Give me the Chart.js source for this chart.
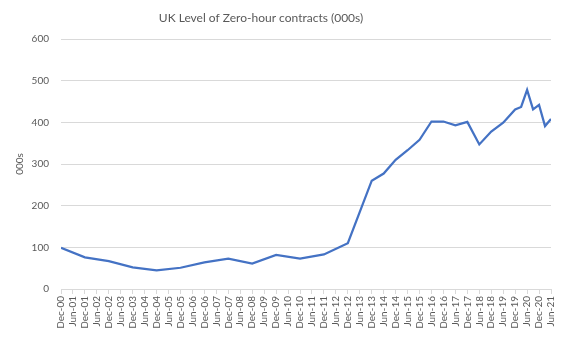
<!DOCTYPE html>
<html>
<head>
<meta charset="utf-8">
<script src="https://cdn.jsdelivr.net/npm/chart.js@4/dist/chart.umd.min.js"></script>
<style>
  html, body { margin: 0; padding: 0; background: #ffffff; }
  canvas { display: block; }
</style>
</head>
<body>
<canvas id="chart" width="565" height="339"></canvas>
<script>
// Survey periods (annual to Dec-13, half-yearly to Jun-19, then quarterly)
const periods = [
  'Dec-00', 'Dec-01', 'Dec-02', 'Dec-03', 'Dec-04', 'Dec-05', 'Dec-06',
  'Dec-07', 'Dec-08', 'Dec-09', 'Dec-10', 'Dec-11', 'Dec-12', 'Dec-13',
  'Jun-14', 'Dec-14', 'Jun-15', 'Dec-15', 'Jun-16', 'Dec-16', 'Jun-17',
  'Dec-17', 'Jun-18', 'Dec-18', 'Jun-19', 'Dec-19', 'Mar-20', 'Jun-20',
  'Sep-20', 'Dec-20', 'Mar-21', 'Jun-21'
];

// People on zero-hour contracts, thousands
const contracts = [
  99, 76, 67, 52, 45, 51, 64,
  73, 61, 82, 73, 83, 110, 260,
  277, 310, 333, 358, 402, 402, 393,
  401, 347, 378, 399, 431, 437, 478,
  431, 442, 391, 408
];

// Category labels along the date axis, every six months
const xTickLabels = [
  'Dec-00', 'Jun-01', 'Dec-01', 'Jun-02', 'Dec-02', 'Jun-03', 'Dec-03',
  'Jun-04', 'Dec-04', 'Jun-05', 'Dec-05', 'Jun-06', 'Dec-06', 'Jun-07',
  'Dec-07', 'Jun-08', 'Dec-08', 'Jun-09', 'Dec-09', 'Jun-10', 'Dec-10',
  'Jun-11', 'Dec-11', 'Jun-12', 'Dec-12', 'Jun-13', 'Dec-13', 'Jun-14',
  'Dec-14', 'Jun-15', 'Dec-15', 'Jun-16', 'Dec-16', 'Jun-17', 'Dec-17',
  'Jun-18', 'Dec-18', 'Jun-19', 'Dec-19', 'Jun-20', 'Dec-20', 'Jun-21'
];

const chartTitle = 'UK Level of Zero-hour contracts (000s)';
const yAxisTitle = '000s';

const MONTHS = ['Jan','Feb','Mar','Apr','May','Jun','Jul','Aug','Sep','Oct','Nov','Dec'];

// Months elapsed since Dec-00
function monthOffset(label) {
  const [mon, yy] = label.split('-');
  return (parseInt(yy, 10) * 12 + MONTHS.indexOf(mon)) - 11;
}

const points = periods.map((p, i) => ({ x: monthOffset(p), y: contracts[i] }));
const lastMonth = monthOffset(xTickLabels[xTickLabels.length - 1]);

const FONT = 'Lato, "Liberation Sans", sans-serif';
const TEXT = '#595959';
const GRID = '#d9d9d9';

// Chart heading, centred over the drawing
const headingPlugin = {
  id: 'heading',
  afterDraw(chart) {
    const ctx = chart.ctx;
    ctx.save();
    ctx.font = '12px ' + FONT;
    ctx.fillStyle = TEXT;
    ctx.textAlign = 'center';
    ctx.textBaseline = 'middle';
    ctx.fillText(chartTitle, 261, 18);
    ctx.restore();
  }
};

new Chart(document.getElementById('chart'), {
  type: 'line',
  data: {
    datasets: [{
      data: points,
      borderColor: '#4472C4',
      borderWidth: 2.25,
      pointRadius: 0,
      pointHoverRadius: 0,
      tension: 0,
      fill: false
    }]
  },
  options: {
    responsive: false,
    animation: false,
    events: [],
    layout: { padding: { top: 39, right: 12, bottom: 0, left: 0 } },
    plugins: {
      legend: { display: false },
      title: { display: false },
      tooltip: { enabled: false }
    },
    scales: {
      x: {
        type: 'linear',
        min: 0,
        max: lastMonth,
        afterFit(scale) { scale.height = 50; },
        afterBuildTicks(scale) {
          scale.ticks = xTickLabels.map((_, i) => ({ value: i * 6 }));
        },
        ticks: {
          autoSkip: false,
          minRotation: 90,
          maxRotation: 90,
          padding: 2,
          color: TEXT,
          font: { family: FONT, size: 10 },
          callback: (value) => xTickLabels[Math.round(value / 6)]
        },
        grid: {
          drawOnChartArea: false,
          drawTicks: true,
          tickLength: 5,
          color: GRID
        },
        border: { display: true, color: GRID, width: 1 }
      },
      y: {
        min: 0,
        max: 600,
        afterFit(scale) { scale.width = 61; },
        ticks: {
          stepSize: 100,
          padding: 12,
          color: TEXT,
          font: { family: FONT, size: 10 }
        },
        grid: { color: GRID, drawTicks: false, lineWidth: 1 },
        border: { display: false },
        title: {
          display: true,
          text: yAxisTitle,
          color: TEXT,
          font: { family: FONT, size: 10 },
          padding: { top: 14, bottom: 0 }
        }
      }
    }
  },
  plugins: [headingPlugin]
});
</script>
</body>
</html>
